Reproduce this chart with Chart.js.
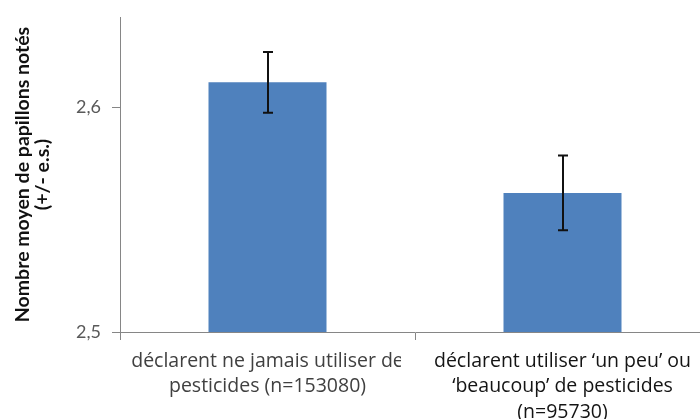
<!DOCTYPE html>
<html>
<head>
<meta charset="utf-8">
<script src="https://cdn.jsdelivr.net/npm/chart.js@4.4.1/dist/chart.umd.min.js"></script>
<style>
    html, body { margin: 0; padding: 0; background: #fff; overflow: hidden; }
    #wrap { width: 710px; height: 419px; position: relative; }
</style>
</head>
<body>
<div id="wrap"><canvas id="chart"></canvas></div>
<script>
// Category labels (one entry per line)
const categories = [
    ['déclarent ne jamais utiliser de', 'pesticides (n=153080)'],
    ['déclarent utiliser ‘un peu’ ou', '‘beaucoup’ de pesticides', '(n=95730)']
];
const labelColors = ['#404040', '#141414'];

// Mean number of butterflies and standard error
const means = [2.611, 2.5618];
const stdErrors = [0.0135, 0.0166];

const yMin = 2.5;
const yMax = 2.64;
const yStep = 0.1;
const yTitle = ['Nombre moyen de papillons notés', '(+/- e.s.)'];

const FONT = 'Lato, "Open Sans", sans-serif';
const LABEL_FONT = '"Open Sans", Lato, sans-serif';
const axisGrey = '#868686';

// Error bars drawn on top of each bar
const errorBars = {
    id: 'errorBars',
    afterDatasetsDraw(chart) {
        const ctx = chart.ctx;
        const yScale = chart.scales.y;
        const meta = chart.getDatasetMeta(0);
        ctx.save();
        ctx.strokeStyle = '#111';
        ctx.lineWidth = 2;
        meta.data.forEach((bar, i) => {
            const top = yScale.getPixelForValue(means[i] + stdErrors[i]);
            const bot = yScale.getPixelForValue(means[i] - stdErrors[i]);
            const x = Math.round(bar.x);
            ctx.beginPath();
            ctx.moveTo(x, top);
            ctx.lineTo(x, bot);
            ctx.moveTo(x - 5, top);
            ctx.lineTo(x + 5, top);
            ctx.moveTo(x - 5, bot);
            ctx.lineTo(x + 5, bot);
            ctx.stroke();
        });
        ctx.restore();
    }
};

// Category labels, clipped to their own slot like the spreadsheet does
const categoryLabels = {
    id: 'categoryLabels',
    afterDraw(chart) {
        const ctx = chart.ctx;
        const xScale = chart.scales.x;
        const area = chart.chartArea;
        const slot = (area.right - area.left) / categories.length;
        ctx.save();
        ctx.font = '19.5px ' + LABEL_FONT;
        ctx.textAlign = 'center';
        ctx.textBaseline = 'alphabetic';
        categories.forEach((lines, i) => {
            const x = xScale.getPixelForValue(i);
            ctx.save();
            ctx.beginPath();
            ctx.rect(x - slot / 2, area.bottom + 1, slot - 14, 100);
            ctx.clip();
            ctx.fillStyle = labelColors[i];
            lines.forEach((line, j) => {
                ctx.fillText(line, x, area.bottom + 34.5 + j * 25.5);
            });
            ctx.restore();
        });
        ctx.restore();
    }
};

new Chart(document.getElementById('chart'), {
    type: 'bar',
    data: {
        labels: categories,
        datasets: [{
            data: means,
            backgroundColor: '#4F81BD',
            borderWidth: 0,
            categoryPercentage: 1,
            barPercentage: 0.4
        }]
    },
    options: {
        responsive: true,
        maintainAspectRatio: false,
        animation: false,
        layout: { padding: { top: 17, left: 0, right: 0, bottom: 0 } },
        plugins: { legend: { display: false }, tooltip: { enabled: false } },
        scales: {
            x: {
                grid: { display: true, drawOnChartArea: false, drawTicks: true, tickLength: 8, color: axisGrey, offset: true },
                border: { display: true, color: axisGrey },
                ticks: { display: false },
                afterFit(scale) {
                    scale.height = 87;
                    scale.paddingLeft = 0;
                    scale.paddingRight = 0;
                }
            },
            y: {
                min: yMin,
                max: yMax,
                grid: { drawOnChartArea: false, drawTicks: true, tickLength: 8, color: axisGrey },
                border: { display: true, color: axisGrey },
                ticks: {
                    stepSize: yStep,
                    includeBounds: false,
                    color: '#595959',
                    padding: 11,
                    font: { family: FONT, size: 18 },
                    callback: v => v.toFixed(1).replace('.', ',')
                },
                title: {
                    display: true,
                    text: yTitle,
                    color: '#111',
                    font: { family: FONT, size: 19.5, weight: 'bold', lineHeight: 1.03 },
                    padding: { top: 13, bottom: 0 }
                },
                afterFit(scale) {
                    scale.width = 120;
                    scale.paddingTop = 0;
                    scale.paddingBottom = 0;
                }
            }
        }
    },
    plugins: [errorBars, categoryLabels]
});
</script>
</body>
</html>
